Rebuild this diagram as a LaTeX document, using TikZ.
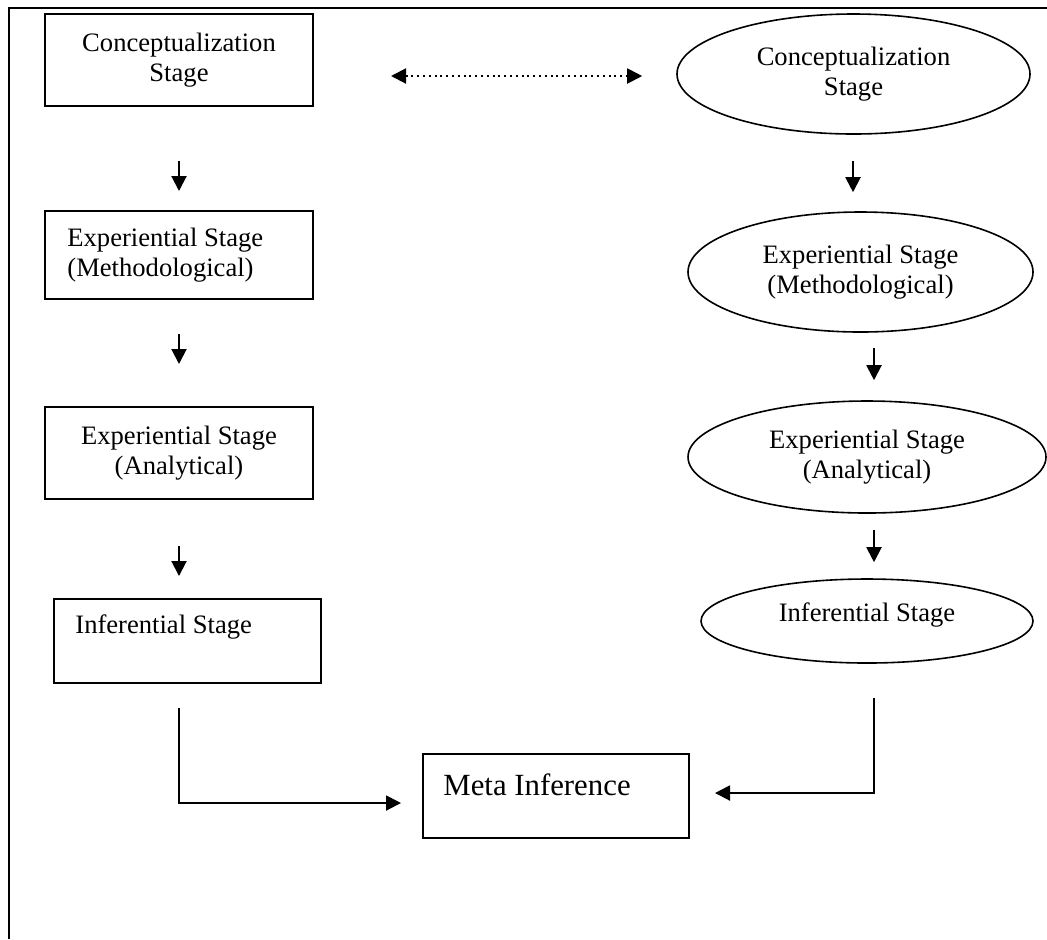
\documentclass[tikz,border=0pt]{standalone}
\usepackage{fontspec}
\setmainfont{Liberation Serif}
\usetikzlibrary{arrows.meta,shapes.geometric}
\begin{document}
\begin{tikzpicture}[x=0.5pt,y=-0.5pt,
  every node/.style={font=\fontsize{13.3}{15}\selectfont, inner sep=0pt},
  rbox/.style={draw, line width=1pt, rectangle},
  ebox/.style={draw, line width=0.8pt, ellipse},
  arr/.style={line width=1pt, -{Triangle[length=7.5pt,width=7.5pt]}},
  darr/.style={line width=1pt, dash pattern=on 1pt off 1.9pt,
    {Triangle[length=7.5pt,width=7.5pt]}-{Triangle[length=7.5pt,width=7.5pt]}},
  frameline/.style={line width=1pt}
]
\useasboundingbox (0,0) rectangle (1047,939);
\draw[frameline] (9,939) -- (9,8) -- (1047,8);

% left column (rectangles)
\node[rbox, minimum width=134pt, minimum height=46pt, align=center] (b1) at (179,60) {Conceptualization\\Stage};
\node[rbox, minimum width=134pt, minimum height=44pt] (b2) at (179,255) {};
\node[anchor=west, align=left] (b2t) at (67,255) {Experiential Stage\\(Methodological)};
\node[rbox, minimum width=134pt, minimum height=46pt, align=center] (b3) at (179,453) {Experiential Stage\\(Analytical)};
\node[rbox, minimum width=133.5pt, minimum height=42pt] (b4) at (187.5,641) {};
\node[anchor=west] (b4t) at (75,627) {Inferential Stage};

% meta inference
\node[rbox, minimum width=133pt, minimum height=42pt] (meta) at (556,796) {};
\node[anchor=west, font=\fontsize{15.4}{17}\selectfont] (metat) at (443,785) {Meta Inference};

% right column (ellipses)
\node[ebox, minimum width=176.5pt, minimum height=60pt, align=center] (e1) at (853.5,74) {Conceptualization\\Stage};
\node[ebox, minimum width=172.5pt, minimum height=60pt, align=center] (e2) at (860.5,272) {Experiential Stage\\(Methodological)};
\node[ebox, minimum width=179pt, minimum height=56pt, align=center] (e3) at (867,457) {Experiential Stage\\(Analytical)};
\node[ebox, minimum width=166pt, minimum height=42pt] (e4) at (867,621) {};
\node (e4t) at (867,615) {Inferential Stage};

% dotted double arrow
\draw[darr] ([xshift=38.5pt,yshift=-8pt]b1.east) -- ([xshift=-17pt,yshift=-1pt]e1.west);

% left arrows
\draw[arr] ([yshift=-27pt]b1.south) -- ([yshift=9.5pt]b2.north);
\draw[arr] ([yshift=-17pt]b2.south) -- ([yshift=21pt]b3.north);
\draw[arr] ([yshift=-23pt]b3.south) -- ([xshift=-4.25pt,yshift=11pt]b4.north);

% right arrows
\draw[arr] ([xshift=-0.25pt,yshift=-13pt]e1.south) -- ([xshift=-3.75pt,yshift=9.5pt]e2.north);
\draw[arr] ([xshift=6.75pt,yshift=-7.5pt]e2.south) -- ([xshift=3.5pt,yshift=10pt]e3.north);
\draw[arr] ([xshift=3.5pt,yshift=-8pt]e3.south) -- ([xshift=3.5pt,yshift=8pt]e4.north);

% bent connectors to meta inference
\draw[arr] ([xshift=-4.25pt,yshift=-12pt]b4.south) |- ([xshift=-10.5pt,yshift=-3.5pt]meta.west);
\draw[arr] ([xshift=3.5pt,yshift=-17pt]e4.south) |- ([xshift=12.5pt,yshift=1.5pt]meta.east);
\end{tikzpicture}
\end{document}
